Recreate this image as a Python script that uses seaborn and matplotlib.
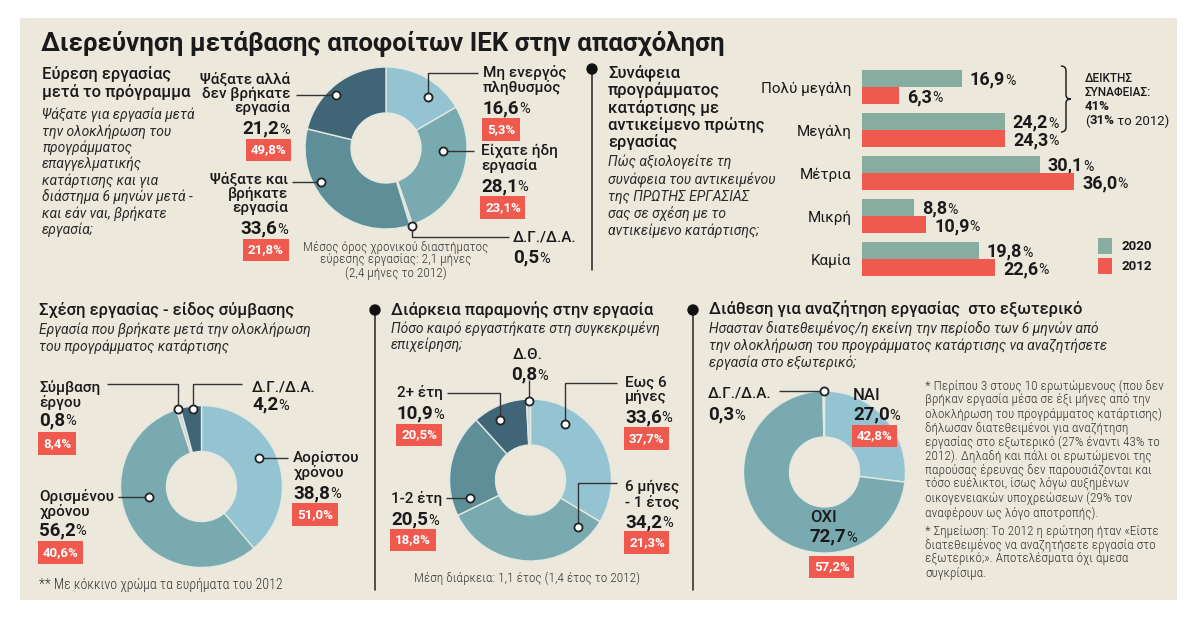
import matplotlib
matplotlib.use("Agg")
import matplotlib.pyplot as plt
from matplotlib import font_manager
from matplotlib.patches import Rectangle, Circle, PathPatch
from matplotlib.path import Path
import numpy as np
import pandas as pd
import seaborn as sns

# ---------------- data ----------------
title = "Διερεύνηση μετάβασης αποφοίτων ΙΕΚ στην απασχόληση"

find_head = ["Εύρεση εργασίας", "μετά το πρόγραμμα"]
find_sub = ["Ψάξατε για εργασία μετά", "την ολοκλήρωση του", "προγράμματος",
            "επαγγελματικής", "κατάρτισης και για", "διάστημα 6 μηνών μετά -",
            "και εάν ναι, βρήκατε", "εργασία;"]
find_labels = ["Μη ενεργός\nπληθυσμός", "Είχατε ήδη\nεργασία", "Δ.Γ./Δ.Α.",
               "Ψάξατε και\nβρήκατε\nεργασία", "Ψάξατε αλλά\nδεν βρήκατε\nεργασία"]
find_2020 = [16.6, 28.1, 0.5, 33.6, 21.2]
find_2012 = [5.3, 23.1, None, 21.8, 49.8]
find_note = ["Μέσος όρος χρονικού διαστήματος", "εύρεσης εργασίας: 2,1 μήνες",
             "(2,4 μήνες το 2012)"]

rel_head = ["Συνάφεια", "προγράμματος", "κατάρτισης με", "αντικείμενο πρώτης", "εργασίας"]
rel_sub = ["Πώς αξιολογείτε τη", "συνάφεια του αντικειμένου", "της ΠΡΩΤΗΣ ΕΡΓΑΣΙΑΣ",
           "σας σε σχέση με το", "αντικείμενο κατάρτισης;"]
rel_cats = ["Πολύ μεγάλη", "Μεγάλη", "Μέτρια", "Μικρή", "Καμία"]
rel_years = ["2020", "2012"]
rel_2020 = [16.9, 24.2, 30.1, 8.8, 19.8]
rel_2012 = [6.3, 24.3, 36.0, 10.9, 22.6]

contract_head = "Σχέση εργασίας - είδος σύμβασης"
contract_sub = ["Εργασία που βρήκατε μετά την ολοκλήρωση", "του προγράμματος κατάρτισης"]
contract_labels = ["Αορίστου\nχρόνου", "Ορισμένου\nχρόνου", "Σύμβαση\nέργου", "Δ.Γ./Δ.Α."]
contract_2020 = [38.8, 56.2, 0.8, 4.2]
contract_2012 = [51.0, 40.6, 8.4, None]
contract_note = "** Με κόκκινο χρώμα τα ευρήματα του 2012"

stay_head = "Διάρκεια παραμονής στην εργασία"
stay_sub = ["Πόσο καιρό εργαστήκατε στη συγκεκριμένη", "επιχείρηση;"]
stay_labels = ["Εως 6\nμήνες", "6 μήνες\n- 1 έτος", "1-2 έτη", "2+ έτη", "Δ.Θ."]
stay_2020 = [33.6, 34.2, 20.5, 10.9, 0.8]
stay_2012 = [37.7, 21.3, 18.8, 20.5, None]
stay_note = "Μέση διάρκεια: 1,1 έτος (1,4 έτος το 2012)"

abroad_head = "Διάθεση για αναζήτηση εργασίας  στο εξωτερικό"
abroad_sub = ["Ησασταν διατεθειμένος/η εκείνη την περίοδο των 6 μηνών από",
              "την ολοκλήρωση του προγράμματος κατάρτισης να αναζητήσετε",
              "εργασία στο εξωτερικό;"]
abroad_labels = ["ΝΑΙ", "ΟΧΙ", "Δ.Γ./Δ.Α."]
abroad_2020 = [27.0, 72.7, 0.3]
abroad_2012 = [42.8, 57.2, None]
abroad_note1 = ["* Περίπου 3 στους 10 ερωτώμενους (που δεν",
                "βρήκαν εργασία μέσα σε έξι μήνες από την",
                "ολοκλήρωση του προγράμματος κατάρτισης)",
                "δήλωσαν διατεθειμένοι για αναζήτηση",
                "εργασίας στο εξωτερικό (27% έναντι 43% το",
                "2012). Δηλαδή και πάλι οι ερωτώμενοι της",
                "παρούσας έρευνας δεν παρουσιάζονται και",
                "τόσο ευέλικτοι, ίσως λόγω αυξημένων",
                "οικογενειακών υποχρεώσεων (29% τον",
                "αναφέρουν ως λόγο αποτροπής)."]
abroad_note2 = ["* Σημείωση: Το 2012 η ερώτηση ήταν «Είστε",
                "διατεθειμένος να αναζητήσετε εργασία στο",
                "εξωτερικό;». Αποτελέσματα όχι άμεσα",
                "συγκρίσιμα."]

# ---------------- style ----------------
BEIGE = "#ECE9DC"
INK = "#1A1A1A"
RED = "#F05A4E"
TEAL_BAR = "#86AD9F"
LIGHT = "#94C4D2"
MID = "#79AAB0"
DARK = "#5E8F99"
DARKEST = "#3F6577"
SLIVER = "#CBD6D6"
EDGE = "#E4E8E2"

sns.set_theme(style="white")
names = {f.name for f in font_manager.fontManager.ttflist}
MAIN = "Roboto" if "Roboto" in names else "DejaVu Sans"
NARROW = "Roboto Condensed" if "Roboto Condensed" in names else MAIN
plt.rcParams["font.family"] = [MAIN, "DejaVu Sans"]

fig = plt.figure(figsize=(12, 6.19), dpi=100)
fig.patch.set_facecolor("white")
cv = fig.add_axes([0, 0, 1, 1])
cv.set_xlim(0, 1200)
cv.set_ylim(619, 0)
cv.add_patch(Rectangle((20, 18), 1157, 582, facecolor=BEIGE, edgecolor="none", zorder=0))

PX = 100 / 72  # pixels per point


def num(v):
    return f"{v:.1f}".replace(".", ",")


def pct(x, y, v, ha="left", size=13.5):
    base = y + 0.36 * size * PX
    if ha == "left":
        t = cv.text(x, base, num(v), ha="left", va="baseline", fontsize=size,
                    fontweight="bold", color=INK)
        cv.annotate("%", xy=(1, base), xycoords=(t, "data"), ha="left", va="baseline",
                    fontsize=size * 0.78, color=INK)
    elif ha == "right":
        t = cv.text(x, base, "%", ha="right", va="baseline", fontsize=size * 0.78, color=INK)
        cv.annotate(num(v), xy=(0, base), xycoords=(t, "data"), ha="right", va="baseline",
                    fontsize=size, fontweight="bold", color=INK)
    else:
        t = cv.text(x - 4, base, num(v), ha="center", va="baseline", fontsize=size,
                    fontweight="bold", color=INK)
        cv.annotate("%", xy=(1, base), xycoords=(t, "data"), ha="left", va="baseline",
                    fontsize=size * 0.78, color=INK)


def red_box(x, y, v, ha="left"):
    dx = 4 if ha == "left" else -4
    cv.text(x + dx, y, num(v) + "%", ha=ha, va="center", fontsize=9.5, fontweight="bold",
            color="white", bbox=dict(boxstyle="square,pad=0.35", fc=RED, ec="none"))


def block(x, y0, label, v20, v12, ha="left", pct_gap=19, red_gap=23, size=11):
    lines = label.split("\n")
    for k, line in enumerate(lines):
        cv.text(x, y0 + 14.5 * k, line, ha=ha, va="center", fontsize=size,
                fontweight="medium", color=INK)
    yp = y0 + 14.5 * (len(lines) - 1) + pct_gap
    pct(x, yp, v20, ha=ha)
    if v12 is not None:
        red_box(x, yp + red_gap, v12, ha=ha)


def donut(center, values, colors):
    wedges, _ = cv.pie(values, colors=colors, startangle=270, counterclock=True,
                       center=center, radius=81, frame=True,
                       wedgeprops=dict(width=46, edgecolor=EDGE, linewidth=1))
    return wedges


def callout(w, frac, rfac, mode, end):
    th = np.deg2rad(w.theta1 + frac * (w.theta2 - w.theta1))
    px = w.center[0] + w.r * rfac * np.cos(th)
    py = w.center[1] + w.r * rfac * np.sin(th)
    if mode == "h":
        xs, ys = [px, end[0]], [py, py]
    else:
        xs, ys = [px, px, end[0]], [py, end[1], end[1]]
    cv.plot(xs, ys, color="#333333", lw=1, zorder=4, solid_capstyle="butt")
    cv.scatter([px], [py], s=34, c="white", edgecolors="#222222", linewidths=1.3, zorder=6)


def bullet(x, y0, y1):
    cv.plot([x, x], [y0, y1], color="#333333", lw=1.2, zorder=2)
    cv.add_patch(Circle((x, y0), 5, color="#111111", zorder=3))


def lines_at(x, y0, step, lines, **kw):
    for k, line in enumerate(lines):
        cv.text(x, y0 + step * k, line, va="center", **kw)


# ---------------- title ----------------
cv.text(41, 43, title, fontsize=18.6, fontweight="bold", color=INK, va="center")

# ---------------- section 1: finding work ----------------
lines_at(42, 74, 18, find_head, fontsize=12, fontweight="medium", color=INK)
lines_at(42, 115, 16.4, find_sub, fontsize=10, style="italic", color="#2A2A2A")

w1 = donut((386, 148), find_2020, [LIGHT, MID, SLIVER, DARK, DARKEST])
callout(w1[0], 0.66, 0.81, "v", (478, 73))
callout(w1[1], 0.33, 0.70, "h", (474, 0))
callout(w1[2], 0.5, 1.02, "v", (509, 237))
callout(w1[3], 0.66, 0.90, "h", (292, 0))
callout(w1[4], 0.43, 0.90, "h", (296, 0))
block(483, 73, find_labels[0], find_2020[0], find_2012[0])
block(481, 151, find_labels[1], find_2020[1], find_2012[1])
block(513, 237, find_labels[2], find_2020[2], find_2012[2])
block(288, 179, find_labels[3], find_2020[3], find_2012[3], ha="right")
block(290, 79, find_labels[4], find_2020[4], find_2012[4], ha="right")
for k, line in enumerate(find_note):
    cv.text(396, 247 + 13 * k, line, ha="center", va="center", fontsize=9.5,
            family=NARROW, fontweight="light", color="#333333")

# ---------------- section 2: relevance bars ----------------
bullet(592, 69, 270)
lines_at(608, 73, 17.3, rel_head, fontsize=12, fontweight="medium", color=INK)
lines_at(608, 162, 17.3, rel_sub, fontsize=10, style="italic", color="#2A2A2A")

df = pd.DataFrame({"cat": rel_cats * 2,
                   "year": [rel_years[0]] * 5 + [rel_years[1]] * 5,
                   "pct": rel_2020 + rel_2012})
bar_left, px_per, top, pitch = 862, 5.9, 65.5, 43
bax = fig.add_axes([bar_left / 1200, (619 - top - 5 * pitch) / 619, 300 / 1200, 5 * pitch / 619])
sns.barplot(data=df, x="pct", y="cat", hue="year", order=rel_cats, hue_order=rel_years,
            orient="h", palette=[TEAL_BAR, RED], saturation=1, width=0.8, linewidth=0,
            legend=False, ax=bax)
bax.set_xlim(0, 300 / px_per)
bax.set_ylim(4.5, -0.5)
bax.set_facecolor("none")
sns.despine(ax=bax, left=True, bottom=True)
bax.set_xticks([])
bax.set_xlabel("")
bax.set_ylabel("")
bax.tick_params(axis="y", length=0, pad=7.5, labelsize=11, labelcolor=INK)

# value labels: bar ends mapped from the bar axes into the page axes
to_cv = cv.transData.inverted()
for cont in bax.containers:
    for p, v in zip(cont.patches, cont.datavalues):
        ex, ey = to_cv.transform(bax.transData.transform((p.get_width(), p.get_y() + p.get_height() / 2)))
        pct(ex + 8, ey, v, size=13)

# legend
for k, (yr, col) in enumerate(zip(rel_years, [TEAL_BAR, RED])):
    cv.add_patch(Rectangle((1098, 238 + 20 * k), 14, 16, facecolor=col, edgecolor="none"))
    cv.text(1121, 247 + 20 * k, yr, va="center", fontsize=9.5, fontweight="bold", color=INK)

# brace + index
bx, b0, b1 = 1066, 66, 132
bm = (b0 + b1) / 2
brace = Path([(bx - 5, b0), (bx, b0), (bx, b0 + 5), (bx, bm - 4), (bx, bm), (bx + 5, bm),
              (bx, bm), (bx, bm + 4), (bx, b1 - 5), (bx, b1), (bx - 5, b1)],
             [Path.MOVETO, Path.CURVE3, Path.CURVE3, Path.LINETO, Path.CURVE3, Path.CURVE3,
              Path.CURVE3, Path.CURVE3, Path.LINETO, Path.CURVE3, Path.CURVE3])
cv.add_patch(PathPatch(brace, facecolor="none", edgecolor="#222222", lw=1.1))
cv.text(1085, 78, "ΔΕΙΚΤΗΣ", va="center", fontsize=8.5, fontweight="medium", color=INK)
cv.text(1085, 92, "ΣΥΝΑΦΕΙΑΣ:", va="center", fontsize=8.5, fontweight="medium", color=INK)
cv.text(1085, 106, "41%", va="center", fontsize=9.5, fontweight="bold", color=INK)
t = cv.text(1085, 121, "(", va="center", fontsize=9.5, color=INK)
t = cv.annotate("31%", xy=(1, 0.5), xycoords=t, va="center", fontsize=9.5, fontweight="bold", color=INK)
cv.annotate(" το 2012)", xy=(1, 0.5), xycoords=t, va="center", fontsize=9.5, color=INK)

# ---------------- section 3: contract ----------------
cv.text(39, 310, contract_head, va="center", fontsize=12, fontweight="medium", color=INK)
lines_at(39, 330, 17, contract_sub, fontsize=10, style="italic", color="#2A2A2A")
w2 = donut((201.5, 486.5), contract_2020, [LIGHT, MID, SLIVER, DARKEST])
callout(w2[0], 0.455, 0.79, "h", (288, 0))
callout(w2[1], 0.59, 0.66, "h", (118, 0))
callout(w2[2], 0.4, 1.0, "v", (107, 384))
callout(w2[3], 0.58, 0.96, "v", (242, 384))
block(293, 458, contract_labels[0], contract_2020[0], contract_2012[0])
block(39, 497, contract_labels[1], contract_2020[1], contract_2012[1], pct_gap=17, red_gap=24)
block(39, 388, contract_labels[2], contract_2020[2], contract_2012[2], pct_gap=16, red_gap=25)
block(252, 387, contract_labels[3], contract_2020[3], contract_2012[3], pct_gap=16)
cv.text(39, 585, contract_note, va="center", fontsize=10, family=NARROW, fontweight="light", color="#333333")

# ---------------- section 4: duration ----------------
bullet(375, 310, 590)
cv.text(391, 310, stay_head, va="center", fontsize=12, fontweight="medium", color=INK)
lines_at(391, 328, 17, stay_sub, fontsize=10, style="italic", color="#2A2A2A")
w3 = donut((530.5, 480), stay_2020, [LIGHT, MID, DARK, DARKEST, SLIVER])
callout(w3[0], 0.26, 0.81, "v", (617, 383))
callout(w3[1], 0.11, 0.82, "v", (617, 483))
callout(w3[2], 0.13, 0.78, "h", (446, 0))
callout(w3[3], 0.385, 0.83, "v", (447, 393))
callout(w3[4], 0.6, 0.98, "v", (529, 380))
block(625, 382, stay_labels[0], stay_2020[0], stay_2012[0])
block(625, 487, stay_labels[1], stay_2020[1], stay_2012[1], red_gap=22)
block(391, 498, stay_labels[2], stay_2020[2], stay_2012[2], pct_gap=20, red_gap=22)
block(397, 393, stay_labels[3], stay_2020[3], stay_2012[3])
block(528, 355, stay_labels[4], stay_2020[4], stay_2012[4], ha="center", pct_gap=18)
cv.text(527, 578, stay_note, ha="center", va="center", fontsize=9.5, family=NARROW,
        fontweight="light", color="#333333")

# ---------------- section 5: abroad ----------------
bullet(693, 310, 590)
cv.text(709, 309, abroad_head, va="center", fontsize=12, fontweight="medium", color=INK)
lines_at(709, 328, 17.5, abroad_sub, fontsize=10, style="italic", color="#2A2A2A")
w4 = donut((824.5, 472), abroad_2020, [LIGHT, MID, SLIVER])
callout(w4[2], 0.5, 1.0, "h", (779, 0))
block(853, 396, abroad_labels[0], abroad_2020[0], abroad_2012[0], pct_gap=17, size=12)
block(810, 517, abroad_labels[1], abroad_2020[1], abroad_2012[1], pct_gap=18, red_gap=32, size=12)
block(708, 394, abroad_labels[2], abroad_2020[2], abroad_2012[2])
lines_at(925, 386, 14.1, abroad_note1, fontsize=9.5, family=NARROW, fontweight="light", color="#333333")
lines_at(925, 531, 14.3, abroad_note2, fontsize=9.5, family=NARROW, fontweight="light", color="#333333")

cv.set_xlim(0, 1200)
cv.set_ylim(619, 0)
cv.set_aspect("auto")
cv.axis("off")

fig.savefig("out.png", dpi=100, facecolor="white")
